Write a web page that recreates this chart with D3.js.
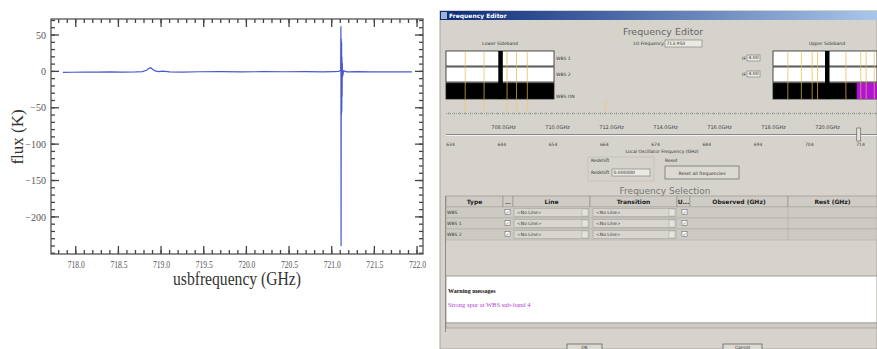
<!DOCTYPE html>
<html>
<head>
<meta charset="utf-8">
<script src="https://cdn.jsdelivr.net/npm/d3@7"></script>
<style>
  body { margin: 0; background: #fff; }
  svg { display: block; }
</style>
</head>
<body>
<svg width="877" height="349"></svg>
<script>
// spectrum (left plot)
const usbFreq = [717.85, 717.95, 718.1, 718.25, 718.4, 718.55, 718.7, 718.78, 718.83, 718.86, 718.88, 718.9, 718.93, 718.97, 719.02, 719.1, 719.25,
  719.45, 719.7, 719.95, 720.2, 720.45, 720.7, 720.9, 721.02, 721.08, 721.105, 721.108, 721.11, 721.112, 721.114, 721.116, 721.118,
  721.12, 721.122, 721.124, 721.126, 721.14, 721.18, 721.3, 721.45, 721.6, 721.75, 721.85, 721.94];
const flux = [-1.4, -1.2, -1.0, -1.1, -0.8, -0.9, -0.6, -0.2, 1.5, 4.2, 5.0, 3.0, 0.6, -0.2, 0.4, -0.6, -0.9,
  -0.5, -0.3, -0.6, -0.4, -0.5, -0.3, -0.6, -0.4, -0.2, 1.5, 62, -240, 45, -60, 40, -55, 20,
  -35, 12, -8, 0.8, -0.6, -0.4, -0.7, -0.5, -0.8, -0.6, -0.7];
const xMajor = [718.0, 718.5, 719.0, 719.5, 720.0, 720.5, 721.0, 721.5, 722.0];
const yMajor = [50, 0, -50, -100, -150, -200];

// frequency editor (right panel)
const guiFreqTicks = [708, 710, 712, 714, 716, 718, 720];
const loTicks = [634, 644, 654, 664, 674, 684, 694, 704, 714];
const loFreq = 713.95;
const lowerLines = [706.6, 707.3, 708.15, 708.5, 708.9, 711.8];
const upperLines = [718.55, 719.05, 719.45, 719.65, 720.7, 721.25, 721.45, 721.75];
const lsbSpur = 707.9, usbSpur = 720.0, spurBand = [721.1, 722.0];
const tableCols = ["Type", "...", "Line", "Transition", "U...", "Observed (GHz)", "Rest (GHz)"];
const tableRows = ["WBS", "WBS 1", "WBS 2"];

const svg = d3.select("svg");
const defs = svg.append("defs");
const serif = "Liberation Serif, serif";
const sans = "DejaVu Sans, sans-serif";

// ---------- left: spectrum ----------
const x = d3.scaleLinear().domain([717.71, 722.07]).range([51, 423]);
const y = d3.scaleLinear().domain([-251, 72]).range([254, 19]);
const xMinor = d3.range(717.8, 722.05, 0.1).map(v => +v.toFixed(1));
const yMinor = d3.range(-250, 71, 10);
const L = 51, R = 423, T = 19, B = 254;

svg.append("rect").attr("x", L).attr("y", T).attr("width", R - L).attr("height", B - T)
  .attr("fill", "none").attr("stroke", "#555").attr("stroke-width", 1.3);

// inward ticks on all four sides
const tickG = svg.append("g").attr("stroke", "#444").attr("stroke-width", 1.3);
function xTicks(vals, len) {
  tickG.selectAll(null).data(vals).join("line")
    .attr("x1", d => x(d)).attr("x2", d => x(d)).attr("y1", B).attr("y2", B - len);
  tickG.selectAll(null).data(vals).join("line")
    .attr("x1", d => x(d)).attr("x2", d => x(d)).attr("y1", T).attr("y2", T + len);
}
function yTicks(vals, len) {
  tickG.selectAll(null).data(vals).join("line")
    .attr("y1", d => y(d)).attr("y2", d => y(d)).attr("x1", L).attr("x2", L + len);
  tickG.selectAll(null).data(vals).join("line")
    .attr("y1", d => y(d)).attr("y2", d => y(d)).attr("x1", R).attr("x2", R - len);
}
xTicks(xMinor, 4); xTicks(xMajor, 8);
yTicks(yMinor, 4); yTicks(yMajor, 8);

const xAx = svg.append("g").attr("transform", `translate(0,${B})`)
  .call(d3.axisBottom(x).tickValues(xMajor).tickSize(0).tickPadding(7).tickFormat(d3.format(".1f")));
xAx.selectAll("text").attr("textLength", 17).attr("lengthAdjust", "spacingAndGlyphs");
const yAx = svg.append("g").attr("transform", `translate(${L},0)`)
  .call(d3.axisLeft(y).tickValues(yMajor).tickSize(0).tickPadding(5).tickFormat(d3.format("d")));
[xAx, yAx].forEach(g => {
  g.select(".domain").remove();
  g.selectAll("text").attr("fill", "#555").attr("font-size", 10).attr("font-family", serif);
});

defs.append("clipPath").attr("id", "plotclip")
  .append("rect").attr("x", L).attr("y", T).attr("width", R - L).attr("height", B - T);

const pts = usbFreq.map((f, i) => [f, flux[i]]);
svg.append("path").datum(pts)
  .attr("clip-path", "url(#plotclip)")
  .attr("fill", "none").attr("stroke", "#4a58cc").attr("stroke-width", 1.2)
  .attr("d", d3.line().x(d => x(d[0])).y(d => y(d[1])));

svg.append("text").attr("transform", "translate(23,137) rotate(-90)")
  .attr("text-anchor", "middle").attr("font-family", serif)
  .attr("font-size", 17).attr("fill", "#333").text("flux (K)");
svg.append("text").attr("x", 237).attr("y", 285)
  .attr("text-anchor", "middle").attr("font-family", serif)
  .attr("font-size", 18).attr("fill", "#333")
  .attr("textLength", 128).attr("lengthAdjust", "spacingAndGlyphs").text("usbfrequency (GHz)");

// ---------- right: frequency editor window ----------
const gui = svg.append("g").attr("font-family", sans);
const bg = "#d6d3cc";

gui.append("rect").attr("x", 440).attr("y", 11).attr("width", 437).attr("height", 338).attr("fill", bg)
  .attr("stroke", "#a8a59e");
const grad = defs.append("linearGradient").attr("id", "titlebar");
grad.append("stop").attr("offset", "0%").attr("stop-color", "#0c2a78");
grad.append("stop").attr("offset", "100%").attr("stop-color", "#a9c6ea");
gui.append("rect").attr("x", 440).attr("y", 11).attr("width", 437).attr("height", 9).attr("fill", "url(#titlebar)");
gui.append("rect").attr("x", 441).attr("y", 12).attr("width", 6).attr("height", 7).attr("fill", "#9bb4d6");
gui.append("text").attr("x", 449).attr("y", 18).attr("font-size", 6).attr("font-weight", "bold")
  .attr("fill", "#fff").text("Frequency Editor");

function label(xp, yp, txt, size, opts = {}) {
  return gui.append("text").attr("x", xp).attr("y", yp).attr("font-size", size)
    .attr("text-anchor", opts.anchor || "start").attr("fill", opts.fill || "#333")
    .attr("font-weight", opts.bold ? "bold" : null).text(txt);
}
function field(xp, yp, w, h, txt) {
  gui.append("rect").attr("x", xp).attr("y", yp).attr("width", w).attr("height", h)
    .attr("fill", "#ece9e2").attr("stroke", "#777").attr("stroke-width", 0.6);
  if (txt) label(xp + 1.5, yp + h - 1.8, txt, 4.5);
}

label(663, 35, "Frequency Editor", 9.5, { anchor: "middle", fill: "#666" });
label(500, 45, "Lower Sideband", 4.5, { anchor: "middle" });
label(827, 45, "Upper Sideband", 4.5, { anchor: "middle" });
label(664, 45, "LO Frequency", 4.5, { anchor: "end" });
field(665, 40, 37, 7, loFreq.toFixed(3));

// shared GUI frequency scale (GHz -> px)
const fx = d3.scaleLinear().domain([708, 720]).range([503, 827]);

function sideband(x0, x1, spur, lines, band) {
  const rows = [[51, 15, "#fff"], [67, 15, "#fff"], [83, 16, "#000"]];
  rows.forEach(r => gui.append("rect").attr("x", x0).attr("y", r[0]).attr("width", x1 - x0).attr("height", r[1])
    .attr("fill", r[2]).attr("stroke", "#222").attr("stroke-width", 0.8));
  if (band) gui.append("rect").attr("x", fx(band[0])).attr("y", 83).attr("width", x1 - fx(band[0])).attr("height", 16)
    .attr("fill", "#b012d8");
  gui.selectAll(null).data(lines.filter(f => fx(f) > x0 && fx(f) < x1)).join("line")
    .attr("x1", d => fx(d)).attr("x2", d => fx(d)).attr("y1", 51).attr("y2", 99)
    .attr("stroke", "#e8b84a").attr("stroke-opacity", 0.7).attr("stroke-width", 1);
  gui.append("rect").attr("x", fx(spur) - 2).attr("y", 51).attr("width", 4.5).attr("height", 48).attr("fill", "#000");
}
sideband(446, 554, lsbSpur, lowerLines);
sideband(773, 877, usbSpur, upperLines, spurBand);
label(556, 60, "WBS 1", 4.5);
label(556, 76, "WBS 2", 4.5);
label(556, 98, "WBS ON", 4.5);
label(746, 60, "IF", 4.5, { anchor: "end" });
label(746, 76, "IF", 4.5, { anchor: "end" });
field(747, 55, 13, 6, "4.00");
field(747, 71, 13, 6, "4.00");

// faint line markers under the lower sideband
gui.selectAll(null).data(lowerLines).join("line")
  .attr("x1", d => fx(d)).attr("x2", d => fx(d)).attr("y1", 100).attr("y2", 112)
  .attr("stroke", "#e9c97a").attr("stroke-width", 1.5).attr("stroke-opacity", 0.6);

// frequency ruler
gui.append("line").attr("x1", 446).attr("x2", 877).attr("y1", 113.5).attr("y2", 113.5)
  .attr("stroke", "#999").attr("stroke-dasharray", "1,1");
gui.selectAll(null).data(d3.range(705.4, 724.5, 0.2).filter(v => fx(v) >= 446 && fx(v) <= 877)).join("line")
  .attr("x1", d => fx(d)).attr("x2", d => fx(d)).attr("y1", 112).attr("y2", 115)
  .attr("stroke", "#999").attr("stroke-width", 0.6);
const rulerLab = gui.append("g").attr("transform", "translate(0,122)")
  .call(d3.axisBottom(fx).tickValues(guiFreqTicks).tickSize(0).tickFormat(d => d.toFixed(1) + "GHz"));
rulerLab.select(".domain").remove();
rulerLab.selectAll("text").attr("font-size", 5).attr("fill", "#444").attr("font-family", sans);

// LO slider
const lx = d3.scaleLinear().domain([634, 714]).range([450, 860]);
gui.append("line").attr("x1", 446).attr("x2", 877).attr("y1", 134.5).attr("y2", 134.5).attr("stroke", "#888").attr("stroke-width", 1);
gui.append("line").attr("x1", 446).attr("x2", 877).attr("y1", 135.5).attr("y2", 135.5).attr("stroke", "#f4f2ee").attr("stroke-width", 1);
gui.append("rect").attr("x", lx(loFreq) - 3).attr("y", 128).attr("width", 4).attr("height", 13)
  .attr("fill", "#e4e1da").attr("stroke", "#555").attr("stroke-width", 0.6);
const loAx = gui.append("g").attr("transform", "translate(0,141)")
  .call(d3.axisBottom(lx).tickValues(loTicks).tickSize(0).tickPadding(2).tickFormat(d3.format("d")));
loAx.select(".domain").remove();
loAx.selectAll("text").attr("font-size", 4.5).attr("fill", "#444").attr("font-family", sans);
label(662, 153, "Local Oscillator Frequency (GHz)", 4.5, { anchor: "middle" });

// redshift / reset
gui.append("rect").attr("x", 588).attr("y", 157).attr("width", 66).attr("height", 24)
  .attr("fill", "none").attr("stroke", "#bcb9b2").attr("stroke-width", 0.6);
label(591, 162, "Redshift", 4.5);
label(591, 174, "Redshift", 4.5);
field(612, 169, 38, 7, "0.000000");
label(665, 162, "Reset", 4.5);
gui.append("rect").attr("x", 665).attr("y", 166).attr("width", 74).attr("height", 13)
  .attr("fill", "#dcd9d2").attr("stroke", "#666").attr("stroke-width", 0.7);
label(702, 174.5, "Reset all frequencies", 4.5, { anchor: "middle" });

label(665, 194, "Frequency Selection", 9, { anchor: "middle", fill: "#777" });

// selection table
const colEdges = [446, 503, 513, 590, 677, 690, 788, 877];
tableCols.forEach((c, i) => {
  gui.append("rect").attr("x", colEdges[i]).attr("y", 196).attr("width", colEdges[i + 1] - colEdges[i]).attr("height", 11)
    .attr("fill", "#cfccc5").attr("stroke", "#8f8c86").attr("stroke-width", 0.6);
  label((colEdges[i] + colEdges[i + 1]) / 2, 204, c, c.length > 3 ? 6 : 5, { anchor: "middle", bold: true, fill: "#222" });
});
const ry = d3.scaleBand().domain(tableRows).range([207, 240]);
tableRows.forEach(r => {
  const y0 = ry(r), h = ry.bandwidth();
  gui.append("rect").attr("x", 446).attr("y", y0).attr("width", 431).attr("height", h)
    .attr("fill", "#cdcac3").attr("stroke", "#aeaba4").attr("stroke-width", 0.6);
  label(447, y0 + 7, r, 4.5);
  [[505, y0 + 2.5], [682, y0 + 2.5]].forEach(c => {
    gui.append("rect").attr("x", c[0]).attr("y", c[1]).attr("width", 5).attr("height", 5)
      .attr("fill", "#fff").attr("stroke", "#555").attr("stroke-width", 0.5);
    label(c[0] + 0.8, c[1] + 4.3, "✓", 4.5, { fill: "#222" });
  });
  [[513, 590], [592, 677]].forEach(c => {
    gui.append("rect").attr("x", c[0] + 1).attr("y", y0 + 1.5).attr("width", c[1] - c[0] - 2).attr("height", h - 3)
      .attr("fill", "#d9d6cf").attr("stroke", "#999").attr("stroke-width", 0.5);
    gui.append("rect").attr("x", c[1] - 8).attr("y", y0 + 2).attr("width", 6).attr("height", h - 4)
      .attr("fill", "#e7e4dd").attr("stroke", "#999").attr("stroke-width", 0.4);
    label(c[0] + 4, y0 + 7, "<No Line>", 4.5);
  });
  gui.append("line").attr("x1", 788).attr("x2", 788).attr("y1", y0).attr("y2", y0 + h).attr("stroke", "#aeaba4").attr("stroke-width", 0.6);
});
gui.append("line").attr("x1", 445.5).attr("x2", 445.5).attr("y1", 196).attr("y2", 332).attr("stroke", "#8f8c86");

// warnings
gui.append("rect").attr("x", 446).attr("y", 276).attr("width", 431).attr("height", 47)
  .attr("fill", "#fff").attr("stroke", "#8f8c86").attr("stroke-width", 0.8);
label(448, 293, "Warning messages", 6, { bold: true, fill: "#111" }).attr("font-family", serif);
label(448, 307, "Strong spur at WBS sub-band 4", 6.5, { fill: "#b23ccf" }).attr("font-family", serif);
gui.append("rect").attr("x", 446).attr("y", 323).attr("width", 431).attr("height", 5).attr("fill", "#cfccc5")
  .attr("stroke", "#8f8c86").attr("stroke-width", 0.6);

// buttons
[[567, 602, "OK"], [723, 762, "Cancel"]].forEach(b => {
  gui.append("rect").attr("x", b[0]).attr("y", 344).attr("width", b[1] - b[0]).attr("height", 8)
    .attr("fill", "#dcd9d2").attr("stroke", "#555").attr("stroke-width", 0.7);
  label((b[0] + b[1]) / 2, 349, b[2], 4.5, { anchor: "middle" });
});
</script>
</body>
</html>
